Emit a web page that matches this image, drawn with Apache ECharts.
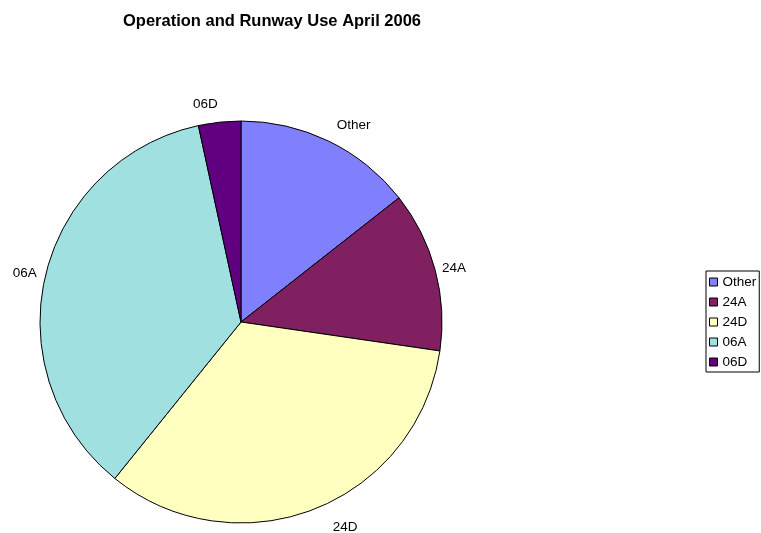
<!DOCTYPE html>
<html>
<head>
<meta charset="utf-8">
<script src="https://cdn.jsdelivr.net/npm/echarts@6/dist/echarts.min.js"></script>
<style>html,body{margin:0;padding:0;background:#fff;}#c{width:761px;height:533px;}</style>
</head>
<body>
<div id="c"></div>
<script>
var categories = ['Other', '24A', '24D', '06A', '06D'];
var values = [14.4, 12.9, 33.5, 35.8, 3.4];
var colors = ['#8080FF', '#802060', '#FFFFC0', '#A0E0E0', '#600080'];
var lineLen = [18, 7, 20, 9, 18];
var lineLen2 = [0, 0, 11, 0, 0];

var FONT = 'Liberation Sans, Arial, sans-serif';
var chart = echarts.init(document.getElementById('c'), null, {renderer: 'canvas'});
var data = categories.map(function (name, i) {
  return {
    name: name,
    value: values[i],
    itemStyle: {color: colors[i]},
    labelLine: {show: false, length: lineLen[i], length2: lineLen2[i]}
  };
});
chart.setOption({
  animation: false,
  backgroundColor: '#fff',
  textStyle: {fontFamily: FONT},
  title: {
    text: 'Operation and Runway Use April 2006',
    left: 267, top: 8, textAlign: 'center',
    textStyle: {fontSize: 16.5, fontWeight: 'bold', color: '#000', fontFamily: FONT}
  },
  legend: {
    orient: 'vertical',
    left: 706, top: 271,
    padding: [4, 3, 3, 3],
    borderColor: '#000', borderWidth: 1,
    itemWidth: 8, itemHeight: 8, itemGap: 6, itemTextGap: 3,
    icon: 'rect',
    itemStyle: {borderColor: '#000', borderWidth: 1},
    textStyle: {fontSize: 13.5, color: '#000', lineHeight: 13, fontFamily: FONT},
    data: categories
  },
  series: [{
    type: 'pie',
    center: [241, 322],
    radius: 201,
    startAngle: 90,
    clockwise: true,
    avoidLabelOverlap: false,
    itemStyle: {borderColor: '#000', borderWidth: 1},
    label: {show: true, position: 'outside', formatter: '{b}', fontSize: 13.5, color: '#000', distanceToLabelLine: 0, fontFamily: FONT},
    labelLine: {show: false},
    emphasis: {disabled: true},
    data: data
  }]
});
</script>
</body>
</html>
